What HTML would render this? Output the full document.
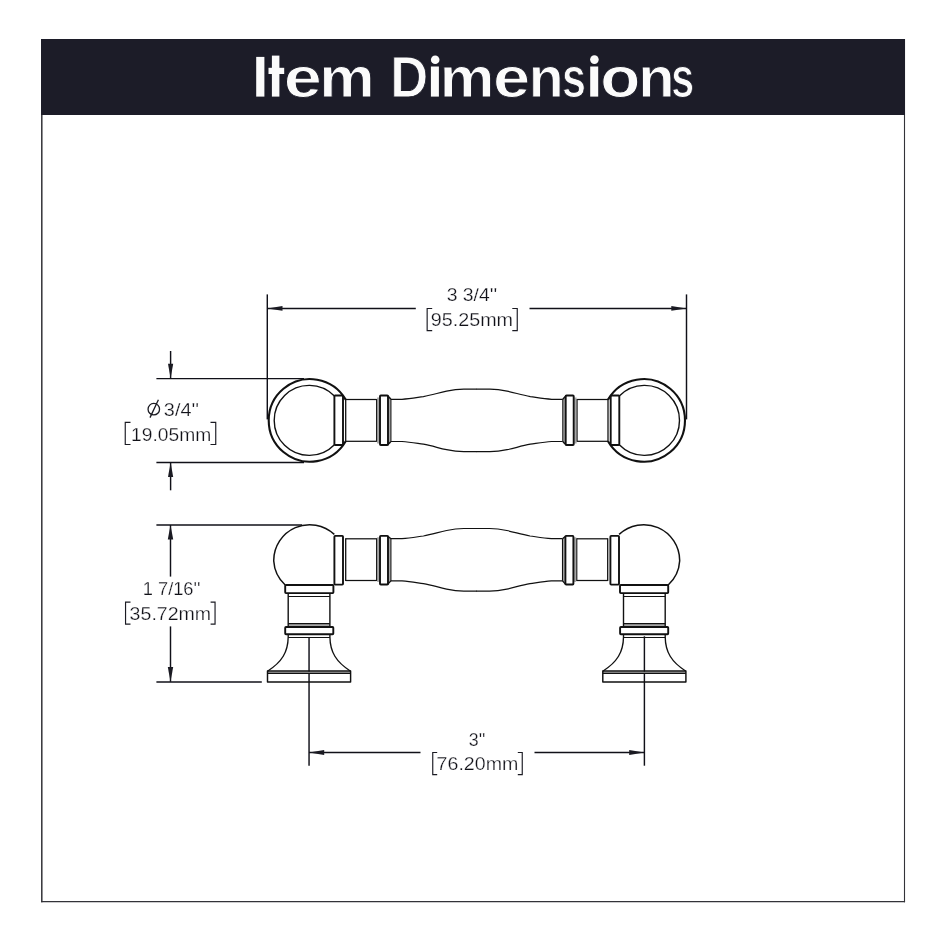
<!DOCTYPE html>
<html>
<head>
<meta charset="utf-8">
<style>
html,body{margin:0;padding:0;background:#fff;}
body{width:950px;height:950px;overflow:hidden;}
svg{display:block;will-change:transform;}
text{font-family:"Liberation Sans", sans-serif;}
</style>
</head>
<body>
<svg width="950" height="950" viewBox="0 0 950 950">
<rect x="0" y="0" width="950" height="950" fill="#fff"/>
<!-- frame -->
<g stroke="#333338"><line x1="41.8" y1="39" x2="41.8" y2="902.25" stroke-width="1.5"/><line x1="904.5" y1="39" x2="904.5" y2="902.25" stroke-width="1.1"/><line x1="41.05" y1="901.6" x2="905.05" y2="901.6" stroke-width="1.3"/></g>
<rect x="41" y="39" width="864" height="76" fill="#1c1c28"/>
<g font-size="58" font-weight="bold" fill="#fbfbfb" stroke="#1c1c28" stroke-width="0.95"><text x="283.85" y="97" textLength="38.06" lengthAdjust="spacingAndGlyphs">e</text><text x="319.32" y="97" textLength="55.42" lengthAdjust="spacingAndGlyphs">m</text><text x="390.21" y="97" textLength="37.98" lengthAdjust="spacingAndGlyphs">D</text><text x="439.87" y="97" textLength="54.72" lengthAdjust="spacingAndGlyphs">m</text><text x="493.12" y="97" textLength="37.14" lengthAdjust="spacingAndGlyphs">e</text><text x="528.66" y="97" textLength="34.85" lengthAdjust="spacingAndGlyphs">n</text><text x="562.01" y="97" textLength="23.93" lengthAdjust="spacingAndGlyphs">s</text><text x="600.36" y="97" textLength="40.08" lengthAdjust="spacingAndGlyphs">o</text><text x="638.30" y="97" textLength="36.37" lengthAdjust="spacingAndGlyphs">n</text><text x="671.28" y="97" textLength="22.88" lengthAdjust="spacingAndGlyphs">s</text></g><g fill="#fbfbfb"><rect x="256.2" y="56.9" width="8.2" height="39.7"/><rect x="271.9" y="55.6" width="7.5" height="41"/><rect x="268.5" y="67.8" width="15.7" height="6.2"/><rect x="430.9" y="66.5" width="8" height="30.1"/><circle cx="435.2" cy="59.7" r="4.3"/><rect x="590.2" y="66.5" width="8" height="30.1"/><circle cx="594.4" cy="59.6" r="4.3"/></g>

<g id="dims" stroke="#101018" stroke-width="1.45" fill="none">
  <!-- 3 3/4 -->
  <line x1="267.3" y1="294.4" x2="267.3" y2="419.4"/>
  <line x1="686.5" y1="294.4" x2="686.5" y2="419.4"/>
  <line x1="267.3" y1="308.4" x2="415.8" y2="308.4"/>
  <line x1="529.5" y1="308.4" x2="686.5" y2="308.4"/>
  <!-- dia 3/4 -->
  <line x1="156.4" y1="378.6" x2="304" y2="378.6"/>
  <line x1="156.4" y1="462.4" x2="304" y2="462.4"/>
  <line x1="170.6" y1="351" x2="170.6" y2="378.6"/>
  <line x1="170.6" y1="462.4" x2="170.6" y2="490.3"/>
  <!-- 1 7/16 -->
  <line x1="156.4" y1="525" x2="302" y2="525"/>
  <line x1="156.4" y1="681.9" x2="261.8" y2="681.9"/>
  <line x1="170.5" y1="525" x2="170.5" y2="576.6"/>
  <line x1="170.5" y1="626.4" x2="170.5" y2="681.8"/>
  <!-- 3 -->
  <line x1="309.05" y1="637.3" x2="309.05" y2="765.7"/>
  <line x1="644.4" y1="636.3" x2="644.4" y2="765.7"/>
  <line x1="309" y1="752.5" x2="420.5" y2="752.5"/>
  <line x1="534.5" y1="752.5" x2="644.4" y2="752.5"/>
</g>
<g id="arrows" fill="#1a1a22" stroke="none">
  <path d="M267.3,308.4 L282.5,306 L282.5,310.8 Z"/>
  <path d="M686.5,308.4 L671.3,306 L671.3,310.8 Z"/>
  <path d="M170.6,378.6 L168,363.8 L173.2,363.8 Z"/>
  <path d="M170.6,462.4 L168,476.9 L173.2,476.9 Z"/>
  <path d="M170.5,525 L167.8,539.6 L173.2,539.6 Z"/>
  <path d="M170.5,681.8 L167.8,667 L173.2,667 Z"/>
  <path d="M309,752.5 L324.2,750 L324.2,755 Z"/>
  <path d="M644.4,752.5 L629.2,750 L629.2,755 Z"/>
</g>

<!-- texts -->
<g fill="#111118" font-size="17.8" stroke="#fff" stroke-width="0.25">
  <text x="446.68" y="301.15" textLength="50.53" lengthAdjust="spacingAndGlyphs">3 3/4''</text>
  <text x="430.72" y="326.35" textLength="82.36" lengthAdjust="spacingAndGlyphs">95.25mm</text>
  <text x="163.86" y="415.65" textLength="35.14" lengthAdjust="spacingAndGlyphs">3/4''</text>
  <text x="131.05" y="440.55" textLength="80.16" lengthAdjust="spacingAndGlyphs">19.05mm</text>
  <text x="142.79" y="595.05" textLength="57.70" lengthAdjust="spacingAndGlyphs">1 7/16''</text>
  <text x="129.63" y="619.75" textLength="81.52" lengthAdjust="spacingAndGlyphs">35.72mm</text>
  <text x="468.82" y="746.25" textLength="16.64" lengthAdjust="spacingAndGlyphs">3''</text>
  <text x="436.62" y="770.05" textLength="81.69" lengthAdjust="spacingAndGlyphs">76.20mm</text>
</g>
<g stroke="#1a1a22" stroke-width="1.15" fill="none">
  <!-- brackets -->
  <polyline points="432.2,308.45 427.15,308.45 427.15,330.55 432.2,330.55"/>
  <polyline points="512.3,308.45 517.25,308.45 517.25,330.55 512.3,330.55"/>
  <polyline points="130.5,422.35 125.25,422.35 125.25,444.45 130.5,444.45"/>
  <polyline points="210.5,422.35 215.75,422.35 215.75,444.45 210.5,444.45"/>
  <polyline points="130.5,602.05 125.55,602.05 125.55,624.15 130.5,624.15"/>
  <polyline points="210.6,602.05 215.05,602.05 215.05,624.15 210.6,624.15"/>
  <polyline points="437.2,752.45 432.75,752.45 432.75,774.55 437.2,774.55"/>
  <polyline points="517.8,752.45 522.25,752.45 522.25,774.55 517.8,774.55"/>
  <!-- diameter symbol -->
  <circle cx="153.8" cy="409.2" r="5.75" stroke-width="1.3"/>
  <line x1="150" y1="417.6" x2="158.4" y2="399.7" stroke-width="1.3"/>
</g>

<!-- handle halves -->
<defs>
  <g id="topHalf" stroke="#111" fill="none" stroke-linejoin="round">
    <rect x="377.1" y="397.5" width="2.3" height="46" fill="#a6a6a6" stroke="none"/>
    <rect x="388.7" y="397.5" width="1.8" height="46" fill="#a6a6a6" stroke="none"/>
    <path d="M345.7,399.6 A41.3,41.3 0 1 0 345.7,441.2" stroke-width="2.1"/>
    <path d="M334.4,396.1 A35,35 0 1 0 334.4,444.7" stroke-width="1.4"/>
    <rect x="334.4" y="395.5" width="8.6" height="49.5" rx="0.8" stroke-width="1.9"/>
    <line x1="345.7" y1="399.1" x2="345.7" y2="441.7" stroke-width="1.3"/>
    <line x1="345.7" y1="399.5" x2="376.6" y2="399.5" stroke-width="1.25"/>
    <line x1="345.7" y1="441.3" x2="376.6" y2="441.3" stroke-width="1.25"/>
    <line x1="376.6" y1="399" x2="376.6" y2="441.8" stroke-width="1.1"/>
    <rect x="380" y="395.5" width="8" height="49.5" rx="0.8" stroke-width="1.9"/>
    <polyline points="387.6,395.5 390.9,399.3" stroke-width="1.3"/>
    <polyline points="387.6,445 390.9,441.5" stroke-width="1.3"/>
    <line x1="390.9" y1="399.3" x2="390.9" y2="441.5" stroke-width="1.1"/>
    <path d="M390.9,399.3 L402,399.3 C410,398.6 416,397.6 423.4,396.6 C432,395 438,393 446.6,391.1 C453,389.8 458,389.2 463.8,389.1 L477,389.1" stroke-width="1.2"/>
    <path d="M390.9,441.5 L402,441.5 C410,442.2 416,443.2 423.4,444.2 C432,445.8 438,447.8 446.6,449.7 C453,451 458,451.6 463.8,451.7 L477,451.7" stroke-width="1.2"/>
  </g>
  <g id="frontHalf" stroke="#111" fill="none" stroke-linejoin="round">
    <rect x="377.1" y="537.3" width="2.3" height="44.6" fill="#a6a6a6" stroke="none"/>
    <rect x="388.7" y="537.3" width="1.8" height="44.6" fill="#a6a6a6" stroke="none"/>
    <rect x="288.2" y="624.1" width="41.7" height="2.2" fill="#a6a6a6" stroke="none"/>
    <rect x="267.5" y="671.5" width="83.1" height="1.5" fill="#a6a6a6" stroke="none"/>
    <path d="M334.3,534.4 A36,36 0 0 0 273.7,560.7 A36,36 0 0 0 285.2,585" stroke-width="1.5"/>
    <rect x="334.4" y="535.9" width="8.6" height="48.7" rx="0.8" stroke-width="1.9"/>
    <line x1="345.7" y1="538.3" x2="345.7" y2="581" stroke-width="1.3"/>
    <line x1="345.7" y1="538.8" x2="376.6" y2="538.8" stroke-width="1.25"/>
    <line x1="345.7" y1="580.5" x2="376.6" y2="580.5" stroke-width="1.25"/>
    <line x1="376.6" y1="538.3" x2="376.6" y2="581" stroke-width="1.1"/>
    <rect x="380" y="535.9" width="8" height="48.6" rx="0.8" stroke-width="1.9"/>
    <polyline points="387.6,535.9 390.9,538.7" stroke-width="1.3"/>
    <polyline points="387.6,584.5 390.9,580.9" stroke-width="1.3"/>
    <line x1="390.9" y1="538.7" x2="390.9" y2="580.9" stroke-width="1.1"/>
    <path d="M390.9,538.7 L402,538.7 C410,538 416,537 423.4,536 C432,534.4 438,532.4 446.6,530.5 C453,529.2 458,528.6 463.8,528.5 L477,528.5" stroke-width="1.2"/>
    <path d="M390.9,580.9 L402,580.9 C410,581.6 416,582.6 423.4,583.6 C432,585.2 438,587.2 446.6,589.1 C453,590.4 458,591 463.8,591.1 L477,591.1" stroke-width="1.2"/>
    <rect x="285.2" y="585.05" width="48.2" height="8.1" rx="0.8" stroke-width="1.9"/>
    <line x1="288.2" y1="596.5" x2="329.9" y2="596.5" stroke-width="1.1"/>
    <line x1="288.2" y1="593.2" x2="288.2" y2="627" stroke-width="1.4"/>
    <line x1="329.9" y1="593.2" x2="329.9" y2="627" stroke-width="1.4"/>
    <line x1="288.2" y1="623.6" x2="329.9" y2="623.6" stroke-width="1.1"/>
    <rect x="285.2" y="627" width="48.1" height="7.3" rx="0.8" stroke-width="1.9"/>
    <line x1="288.2" y1="637.5" x2="329.9" y2="637.5" stroke-width="1.1"/>
    <path d="M288.2,634.3 L288.2,637 C288,652 282,662 267.5,671.2" stroke-width="1.35"/>
    <path d="M329.9,634.3 L329.9,637 C330.1,652 336.1,662 350.6,671.2" stroke-width="1.35"/>
    <rect x="267.5" y="671" width="83.1" height="11" stroke-width="1.45"/>
    <line x1="267.5" y1="673.3" x2="350.6" y2="673.3" stroke-width="1.2"/>
  </g>
</defs>
<use href="#topHalf"/>
<use href="#topHalf" transform="translate(953.7,0) scale(-1,1)"/>
<use href="#frontHalf"/>
<use href="#frontHalf" transform="translate(953.4,0) scale(-1,1)"/>
</svg>
</body>
</html>
